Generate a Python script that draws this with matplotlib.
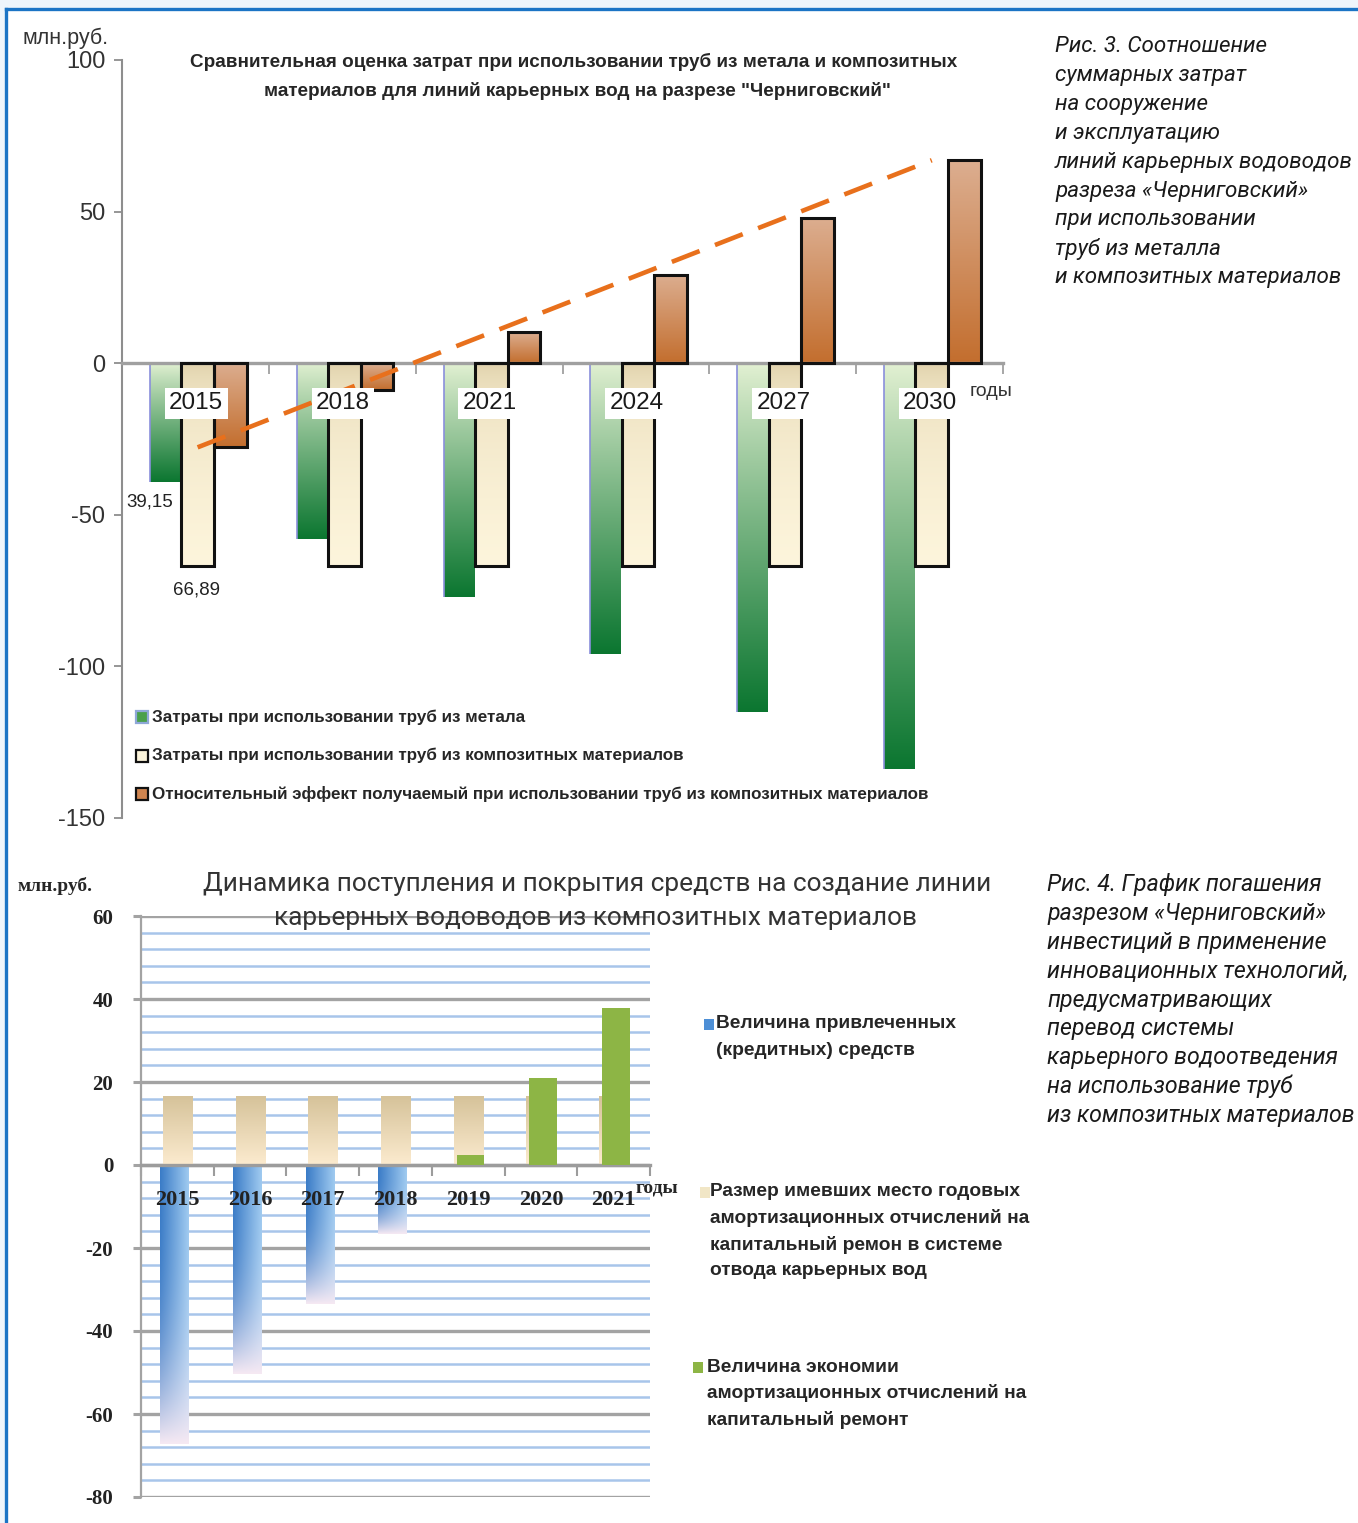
import numpy as np
import matplotlib
matplotlib.use('Agg')
import matplotlib.pyplot as plt
from matplotlib import font_manager as fm
from matplotlib.colors import to_rgb
from matplotlib.patches import Rectangle
from matplotlib.lines import Line2D

plt.rcParams['axes.unicode_minus'] = False

W, H = 1358, 1523

# ---- Рис. 3: затраты по годам, млн руб.
years1 = ['2015', '2018', '2021', '2024', '2027', '2030']
metal_cost = [-39.15, -58.1, -77.1, -96.0, -114.9, -133.8]
composite_cost = [-66.89, -66.89, -66.89, -66.89, -66.89, -66.89]
effect = [-27.74, -8.9, 10.2, 29.1, 48.0, 66.9]
legend1 = ['Затраты при использовании труб из метала',
           'Затраты при использовании труб из композитных материалов',
           'Относительный эффект получаемый при использовании труб из композитных материалов']
title1 = ['Сравнительная оценка затрат при использовании труб из метала и композитных',
          'материалов для линий карьерных вод на разрезе "Черниговский"']
caption1 = ['Рис. 3. Соотношение', 'суммарных затрат', 'на сооружение', 'и эксплуатацию',
            'линий карьерных водоводов', 'разреза «Черниговский»', 'при использовании',
            'труб из металла', 'и композитных материалов']

# ---- Рис. 4: поступление и покрытие средств, млн руб.
years2 = ['2015', '2016', '2017', '2018', '2019', '2020', '2021']
credit = [-67.2, -50.4, -33.4, -16.6, 0, 0, 0]
amort = [16.7, 16.7, 16.7, 16.7, 16.7, 16.7, 16.7]
saving = [0, 0, 0, 0, 2.5, 21.0, 37.8]
legend2 = [['Величина привлеченных', '(кредитных) средств'],
           ['Размер имевших место годовых', 'амортизационных отчислений на',
            'капитальный ремон в системе', 'отвода карьерных вод'],
           ['Величина экономии', 'амортизационных отчислений на', 'капитальный ремонт']]
title2 = ['Динамика поступления и покрытия средств на создание линии',
          'карьерных водоводов из композитных материалов']
caption2 = ['Рис. 4. График погашения', 'разрезом «Черниговский»', 'инвестиций в применение',
            'инновационных технологий,', 'предусматривающих', 'перевод системы',
            'карьерного водоотведения', 'на использование труб', 'из композитных материалов']


def has_font(name):
    try:
        fm.findfont(fm.FontProperties(family=name), fallback_to_default=False)
        return True
    except ValueError:
        return False


SANS = 'Liberation Sans'
NARROW = 'Liberation Sans Narrow' if has_font('Liberation Sans Narrow') else SANS
SERIF = 'Liberation Serif'
ITALIC = 'Roboto'

fig = plt.figure(figsize=(W / 100, H / 100), dpi=100)
fig.patch.set_facecolor('white')


def px_axes(left, top, right, bottom):
    return fig.add_axes([left / W, 1 - bottom / H, (right - left) / W, (bottom - top) / H])


def ftext(x, y, s, **kw):
    return fig.text(x / W, 1 - y / H, s, va='center', **kw)


def text_block(x, y, lines, pitch, widest, size, **kw):
    # lines of one block share a size scaled so the widest line fits `widest` px
    arts = [ftext(x, y + i * pitch, s, fontsize=size, **kw) for i, s in enumerate(lines)]
    r = fig.canvas.get_renderer()
    w = max(a.get_window_extent(r).width for a in arts)
    for a in arts:
        a.set_fontsize(size * widest / w)
    return arts


def fig_box(x, y, w, h, fc, ec='none', lw=1.0):
    fig.add_artist(Rectangle((x / W, 1 - (y + h / 2) / H), w / W, h / H,
                             transform=fig.transFigure, fc=fc, ec=ec, lw=lw))


def vgrad(c_top, c_bot, gamma=1.0, n=256):
    t = np.linspace(0, 1, n)[:, None, None] ** gamma
    a, b = np.array(to_rgb(c_top)), np.array(to_rgb(c_bot))
    return np.repeat(a + (b - a) * t, 2, axis=1)


def blue_grad(n=256, m=32):
    s = np.linspace(0, 1, n)[:, None, None] ** 3
    t = np.linspace(0, 1, m)[None, :, None]
    left, right = np.array(to_rgb('#3b7cc7')), np.array(to_rgb('#9fcaf0'))
    end = np.array(to_rgb('#f6e9f3'))
    base = left + (right - left) * t
    return base + (end - base) * s


def gradient_fill(ax, bars, img):
    for b in bars:
        h = b.get_height()
        if h == 0:
            continue
        x0, w = b.get_x(), b.get_width()
        lo, hi = sorted((b.get_y(), b.get_y() + h))
        im = ax.imshow(img, extent=(x0, x0 + w, lo, hi), origin='upper', aspect='auto',
                       interpolation='bilinear', zorder=b.get_zorder() + 0.1)
        im.set_clip_path(b)


# page frame
fig.add_artist(Rectangle((0, 1 - 9 / H), 1, 9 / H, transform=fig.transFigure, fc='#eef5fb', ec='none'))
fig.add_artist(Rectangle((0, 0), 6 / W, 1, transform=fig.transFigure, fc='#eef5fb', ec='none'))
fig.add_artist(Line2D([6 / W, 1], [1 - 9 / H, 1 - 9 / H], color='#1b74c5', lw=2.4))
fig.add_artist(Line2D([6 / W, 6 / W], [0, 1 - 9 / H], color='#1b74c5', lw=2.4))

# ================= Рис. 3 =================
ax1 = px_axes(122, 60, 1003, 818)
x1 = np.arange(len(years1)) + 0.515
bw = 0.222

b_metal = ax1.bar(x1 - bw, metal_cost, bw * 0.93, color='#3f9a45', lw=0, zorder=2)
b_comp = ax1.bar(x1, composite_cost, bw, color='#fbf3da', lw=0, zorder=2)
b_eff = ax1.bar(x1 + bw, effect, bw, color='#cf8550', lw=0, zorder=2)
gradient_fill(ax1, b_metal, vgrad('#e3f1d3', '#0b7630', gamma=0.9))
gradient_fill(ax1, b_comp, vgrad('#d3c194', '#fdf5dc', gamma=0.25))
gradient_fill(ax1, b_eff, vgrad('#dcae90', '#c36e2e'))
ax1.vlines([b.get_x() for b in b_metal], 0, metal_cost, color='#8a8fdc', lw=1.2, zorder=2.3)
ax1.bar(x1, composite_cost, bw, fill=False, edgecolor='#111111', lw=2.2, zorder=3)
ax1.bar(x1 + bw, effect, bw, fill=False, edgecolor='#111111', lw=2.2, zorder=3)

# linear trend of the relative effect
k, c = np.polyfit(x1, effect, 1)
xt = np.array([x1[0], x1[-1]])
ax1.plot(xt, k * xt + c, color='#e8701c', lw=3.3, ls=(0, (6.5, 3.6)),
         dash_capstyle='butt', zorder=4)

for xi, yr in zip(x1, years1):
    ax1.text(xi - 0.01, -13.2, yr, ha='center', va='center', fontsize=17.5, family=SANS,
             color='#1a1a1a', zorder=5,
             bbox=dict(boxstyle='square,pad=0.18', fc='white', ec='none'))

ax1.text(b_metal[0].get_x(), metal_cost[0] - 6.6, f'{-metal_cost[0]:.2f}'.replace('.', ','),
         ha='center', va='center', fontsize=13.5, family=SANS, color='#222222', zorder=5)
ax1.text(x1[0] - 0.01, composite_cost[0] - 8.0, f'{-composite_cost[0]:.2f}'.replace('.', ','),
         ha='center', va='center', fontsize=13.5, family=SANS, color='#222222', zorder=5)

ax1.set_xlim(0, 6)
ax1.set_ylim(-150, 100)
ax1.set_facecolor('none')
for side in ('top', 'right'):
    ax1.spines[side].set_visible(False)
ax1.spines['left'].set_color('#8e8e8e')
ax1.spines['left'].set_linewidth(1.5)
ax1.spines['bottom'].set_position(('data', 0))
ax1.spines['bottom'].set_color('#a0a0a0')
ax1.spines['bottom'].set_linewidth(2.4)
ax1.set_yticks([100, 50, 0, -50, -100, -150])
ax1.tick_params(axis='y', length=6, width=1.3, color='#8e8e8e', labelsize=17,
                labelcolor='#333333', pad=6, labelfontfamily=SANS)
ax1.set_xticks(range(7))
ax1.tick_params(axis='x', length=8, width=1.3, color='#a0a0a0', direction='out', labelbottom=False)

ftext(22, 38, 'млн.руб.', fontsize=15.5, family=SANS, color='#333333')
ftext(970, 392, 'годы', fontsize=14, family=SANS, color='#333333')
text_block(190, 62, title1[:1], 29, 773, 15, family=NARROW, weight='bold', color='#262626')
ftext(577, 91, title1[1], ha='center', fontsize=fig.texts[-1].get_fontsize(), family=NARROW,
      weight='bold', color='#262626')

# legend of Рис. 3
leg_colors = [('#4aa04c', '#8fa8d8'), ('#fbf3da', '#111111'), ('#cf8550', '#111111')]
for i, (fc, ec) in enumerate(leg_colors):
    fig_box(136, 717 + i * 38.5, 12, 12, fc, ec, lw=1.6)
text_block(152, 717, legend1, 38.5, 783, 14, family=NARROW, weight='bold', color='#262626')

text_block(1055, 47, caption1, 28.8, 299, 16, family=ITALIC, style='italic', color='#1a1a1a')

# ================= Рис. 4 =================
ax2 = px_axes(141, 916, 650, 1497)
x2 = np.arange(len(years2)) + 0.5
b_amort = ax2.bar(x2, amort, 0.40, color='#efe2c0', lw=0, zorder=2)
b_credit = ax2.bar(x2 - 0.04, credit, 0.39, color='#4b8ed6', lw=0, zorder=2)
b_saving = ax2.bar(x2 + 0.03, saving, 0.38, color='#8db545', lw=0, zorder=3)
gradient_fill(ax2, b_amort, vgrad('#d5c299', '#fcebcf'))
gradient_fill(ax2, b_credit, blue_grad())

for xi, yr in zip(x2, years2):
    ax2.text(xi, -8.4, yr, ha='center', va='center', fontsize=16, family=SERIF,
             weight='bold', color='#222222', zorder=5)

ax2.set_xlim(0, 7)
ax2.set_ylim(-80, 60)
ax2.set_axisbelow(True)
ax2.set_yticks(range(-80, 61, 20))
ax2.set_yticks(range(-80, 61, 4), minor=True)
ax2.grid(axis='y', which='minor', color='#a8c5ea', lw=1.8)
ax2.grid(axis='y', which='major', color='#a3a3a3', lw=2.4)
ax2.tick_params(axis='y', which='minor', length=0)
ax2.tick_params(axis='y', which='major', length=6, width=2.2, color='#a3a3a3', labelsize=15,
                labelcolor='#222222', pad=14, labelfontfamily=SERIF)
for lab in ax2.get_yticklabels():
    lab.set_fontweight('bold')
for side in ('top', 'right'):
    ax2.spines[side].set_visible(False)
ax2.spines['left'].set_color('#a3a3a3')
ax2.spines['left'].set_linewidth(1.6)
ax2.spines['bottom'].set_position(('data', 0))
ax2.spines['bottom'].set_color('#9c9c9c')
ax2.spines['bottom'].set_linewidth(2.4)
ax2.set_xticks(range(8))
ax2.tick_params(axis='x', length=8, width=1.5, color='#9c9c9c', direction='out', labelbottom=False)

ftext(18, 886, 'млн.руб.', fontsize=14, family=SERIF, weight='bold', color='#262626')
ftext(636, 1188, 'годы', fontsize=14, family=SERIF, weight='bold', color='#262626')
text_block(203, 884, title2[:1], 34, 785, 19, family='Roboto', color='#333333')
ftext(596, 918, title2[1], ha='center', fontsize=fig.texts[-1].get_fontsize(), family='Roboto',
      color='#333333')

# legend of Рис. 4
leg2 = [(704, 716, 1024, '#4d8fd6'), (700, 710, 1192, '#f1e6c6'), (693, 707, 1367, '#8db545')]
r = fig.canvas.get_renderer()
arts = []
for (mx, tx, ty, fc), lines in zip(leg2, legend2):
    fig_box(mx, ty, 10, 11, fc)
    arts += [ftext(tx, ty + i * 26.3, s, fontsize=14, family=NARROW, weight='bold', color='#262626')
             for i, s in enumerate(lines)]
scale = 320 / max(a.get_window_extent(r).width for a in arts)
for a in arts:
    a.set_fontsize(a.get_fontsize() * scale)

text_block(1047, 885, caption2, 28.8, 308, 16, family=ITALIC, style='italic', color='#1a1a1a')

fig.savefig('out.png', dpi=100)
